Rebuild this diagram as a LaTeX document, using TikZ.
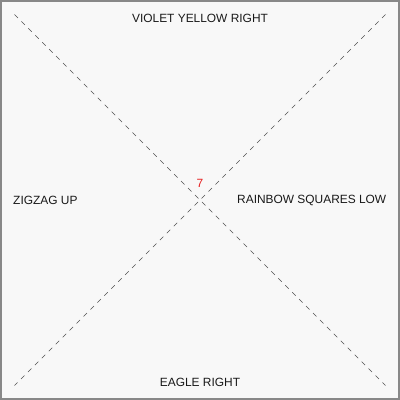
\documentclass[tikz,border=0pt]{standalone}
\usepackage{fontspec}
\setmainfont{Liberation Sans}
\usetikzlibrary{math}
\definecolor{mybg}{RGB}{248,248,248}
\definecolor{myframe}{RGB}{136,136,136}
\definecolor{myline}{RGB}{80,80,80}
\definecolor{myred}{RGB}{230,30,30}
\begin{document}
\begin{tikzpicture}[x=0.025cm,y=-0.025cm,
  lbl/.style={font=\fontsize{8.5}{10}\selectfont, text=black!90, inner sep=0pt},
  diag/.style={draw=myline, line width=0.35pt, dash pattern=on 3.5pt off 3.5pt}]
\tikzmath{
\W=400;
\m=14;
}
%frame
\fill[mybg] (0,0) rectangle (\W,\W);
\draw[myframe, line width=1.4pt] (0.5,0.5) rectangle (\W-0.5,\W-0.5);
\useasboundingbox (0,0) rectangle (\W,\W);

%corners
\coordinate (tl) at (\m,\m);
\coordinate (tr) at (\W-\m,\m);
\coordinate (bl) at (\m,\W-\m);
\coordinate (br) at (\W-\m,\W-\m);

%diagonals
\draw[diag] (tl) -- (br);
\draw[diag] (tr) -- (bl);

%labels
\node[lbl] (top) at (200,18) {VIOLET YELLOW RIGHT};
\node[lbl] (left) at (45,200) {ZIGZAG UP};
\node[lbl] (right) at (312,200) {RAINBOW SQUARES LOW};
\node[lbl] (bottom) at (200,382.5) {EAGLE RIGHT};
\node[lbl, text=myred] (mid) at (200,183) {7};
\end{tikzpicture}
\end{document}
